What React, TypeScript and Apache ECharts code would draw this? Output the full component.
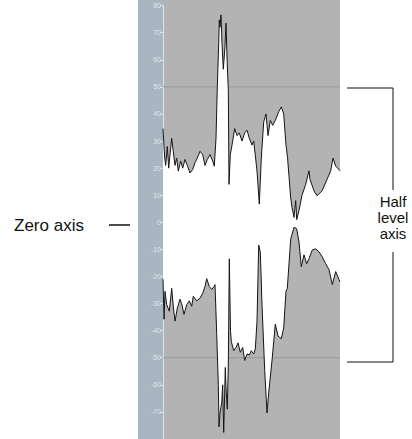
import React, { useEffect, useRef } from "react";
import * as echarts from "echarts";

// Sample position (0..177 across the plot) and level value of the upper envelope
const upperEnvelope: [number, number][] = [
  [0, 34.6], [1.7, 23.7], [2.7, 21], [4.3, 28], [5.7, 20], [7, 25], [8.7, 31], [10.3, 26],
  [12, 21], [13.7, 23.7], [15.3, 18.9], [17.7, 22.6], [19.7, 20], [22, 23.2], [24.3, 21],
  [27, 18.2], [29.7, 19.5], [32, 22], [34.3, 23.7], [37, 26.2], [39.7, 25], [42, 21],
  [44.3, 23.2], [47, 25], [49.7, 22.6], [51.3, 20.7], [53, 31], [54.3, 50], [55.7, 66],
  [56.3, 74.7], [57, 72], [58, 76.6], [59, 66], [60.3, 56.5], [62, 65], [63, 73.5],
  [64.3, 57.7], [65.3, 49], [66, 14], [67.3, 25], [69, 28.5], [71.7, 34.6], [74, 32],
  [76.3, 33], [79, 30], [81.7, 33], [84, 34], [86.3, 31], [89, 28.5], [90.7, 30],
  [92.3, 24.8], [94, 18.9], [96.3, 6.7], [98.3, 23.7], [100.7, 37], [103, 40], [105, 32],
  [107.3, 37.6], [109.7, 35.8], [112.3, 37.6], [115.7, 40.8], [118.3, 42.6], [120.7, 40],
  [123, 28.5], [124.5, 24], [127.7, 9], [129, 5.5], [131, 1.8], [132.7, 8], [133.7, 1],
  [136, 4.4], [139, 10], [142.7, 14], [146, 19], [147, 15.8], [151, 11.6], [154, 9.8],
  [159, 11.6], [164, 15.8], [167.7, 19], [170, 23.7], [172.7, 20.7], [176, 19.5], [177, 19],
];

// Sample position and level value of the lower envelope
const lowerEnvelope: [number, number][] = [
  [0, -21], [1, -35.8], [2, -25.5], [3.7, -30.4], [6.3, -32.8], [8.7, -24.4], [10.3, -31],
  [12, -36.5], [14.3, -31.7], [17, -28.4], [18.7, -30], [21, -34], [23.7, -30.4], [26.3, -29],
  [28.7, -31], [30.3, -27.3], [33.7, -29], [37, -28], [39.7, -26.2], [42, -23.7], [43.7, -20.8],
  [46.3, -23.7], [48.7, -24.8], [51, -23.7], [52, -23], [53.7, -41], [55.3, -60], [56, -75.5],
  [57, -70.4], [58.7, -66.7], [59.7, -60], [60.7, -77.6], [62.3, -53.6], [63, -61], [64.3, -69],
  [65.3, -53], [66.3, -13.5], [67.5, -40], [68.3, -44], [70.7, -47.4], [73, -46.2], [75, -44.5],
  [77.3, -48], [79.7, -46.2], [81.7, -51], [84, -48.6], [86.3, -49], [88.3, -47.4], [90.7, -48.6],
  [92.3, -46.8], [94, -36.5], [95.7, -8.4], [97.3, -10.9], [99, -30.4], [101.7, -54.7],
  [104, -70.4], [105.7, -63], [109, -51], [112.3, -37.6], [115, -42], [118.3, -43], [120.7, -39],
  [123, -25.5], [124.3, -24.4], [127.7, -6.2], [131, -1.8], [133.7, -2.4], [136, -7.3],
  [138.3, -16.4], [141, -12], [143.7, -15.3], [146, -13.4], [149.3, -10.2], [152.7, -9.8],
  [156, -10.9], [159.3, -12.8], [162.7, -15.3], [166, -17.5], [169.3, -23], [172.7, -18.2],
  [176, -21.1], [177, -22],
];

const halfLevels = [50, -50];
const sampleRange = [0, 177];
const levelRange = [-80, 80];
const levelStep = 10;

const FONT = "'Liberation Sans', Arial, Helvetica, sans-serif";

export default function App() {
  const ref = useRef<HTMLDivElement>(null);

  useEffect(() => {
    if (!ref.current) return;
    const chart = echarts.init(ref.current, null, { renderer: "svg" });

    const halfSeries = halfLevels.map((lv) => ({
      type: "line",
      z: 1,
      silent: true,
      symbol: "none",
      data: [
        [sampleRange[0], lv],
        [sampleRange[1], lv],
      ],
      lineStyle: { color: "#999999", width: 1 },
    }));

    // the two fills overlap slightly around zero so no seam shows
    const waveSeries = [
      { d: upperEnvelope, origin: -0.8 },
      { d: lowerEnvelope, origin: 0.8 },
    ].map(({ d, origin }) => ({
      type: "line",
      z: 3,
      silent: true,
      symbol: "none",
      data: d,
      lineStyle: { color: "#151515", width: 1 },
      areaStyle: { color: "#ffffff", opacity: 1, origin },
    }));

    chart.setOption({
      animation: false,
      backgroundColor: "#ffffff",
      grid: { left: 163, right: 72, top: 5.6, height: 438.9, show: false },
      xAxis: {
        type: "value",
        min: sampleRange[0],
        max: sampleRange[1],
        show: false,
      },
      yAxis: {
        type: "value",
        min: levelRange[0],
        max: levelRange[1],
        interval: levelStep,
        axisLine: { show: true, lineStyle: { color: "#dce4ea", width: 1 } },
        axisTick: { show: true, length: 3, lineStyle: { color: "#dce4ea" } },
        axisLabel: {
          fontSize: 7,
          color: "#dde5ec",
          margin: 2,
          fontFamily: FONT,
          showMinLabel: false,
        },
        splitLine: { show: false },
      },
      graphic: [
        {
          type: "rect",
          z: -10,
          silent: true,
          shape: { x: 138, y: 0, width: 25, height: 439 },
          style: { fill: "#a9b5c0" },
        },
        {
          type: "rect",
          z: -10,
          silent: true,
          shape: { x: 163, y: 0, width: 177, height: 439 },
          style: { fill: "#b3b3b3" },
        },
        {
          type: "text",
          x: 14,
          y: 225,
          style: {
            text: "Zero axis",
            fontSize: 17,
            fontFamily: FONT,
            fill: "#111",
            verticalAlign: "middle",
            align: "left",
          },
        },
        {
          type: "line",
          shape: { x1: 109, y1: 225, x2: 130, y2: 225 },
          style: { stroke: "#111", lineWidth: 1.5 },
        },
        {
          type: "polyline",
          shape: { points: [[347, 88], [393, 88], [393, 190]] },
          style: { stroke: "#111", lineWidth: 1, fill: null },
        },
        {
          type: "polyline",
          shape: { points: [[393, 252], [393, 362], [347, 362]] },
          style: { stroke: "#111", lineWidth: 1, fill: null },
        },
        {
          type: "text",
          x: 393,
          y: 217,
          style: {
            text: "Half\nlevel\naxis",
            fontSize: 15,
            lineHeight: 16,
            fontFamily: FONT,
            fill: "#111",
            align: "center",
            verticalAlign: "middle",
          },
        },
      ],
      series: [...halfSeries, ...waveSeries],
    });

    return () => chart.dispose();
  }, []);

  return (
    <div
      ref={ref}
      style={{ position: "absolute", left: 0, top: 0, width: 412, height: 439 }}
    />
  );
}
